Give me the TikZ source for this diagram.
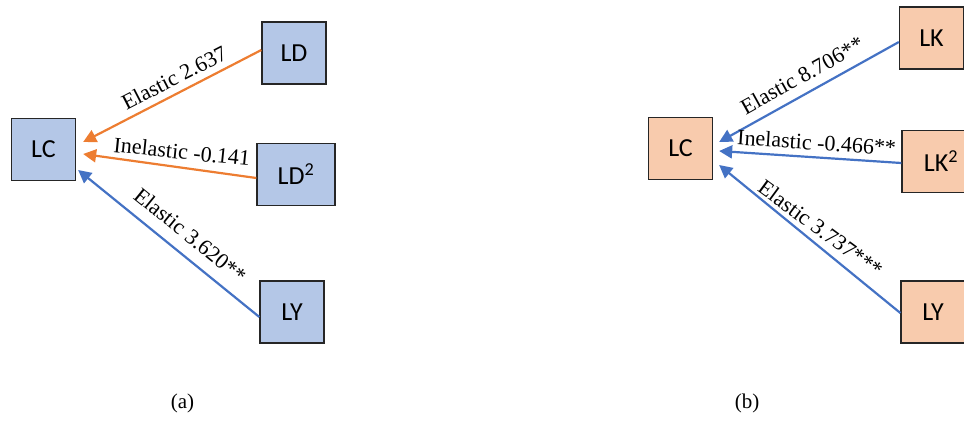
\documentclass[tikz,border=0pt]{standalone}
\usepackage{fontspec}
\setmainfont{Liberation Serif}
\newfontfamily\boxfont{Carlito}
\usetikzlibrary{arrows.meta}

\definecolor{boxblue}{HTML}{B4C7E7}
\definecolor{boxorange}{HTML}{F8CBAD}
\definecolor{arrblue}{HTML}{4472C4}
\definecolor{arrorange}{HTML}{ED7D31}

\begin{document}
\begin{tikzpicture}[x=1pt,y=-1pt]
  \tikzset{var/.style = {shape=rectangle,draw=black!85,line width=1.3pt,minimum width=64pt,minimum height=62pt,inner sep=0pt,font=\boxfont\fontsize{26}{30}\selectfont}}
  \tikzset{wide/.style = {minimum width=78pt}}
  \tikzset{arr/.style = {{Triangle[length=13pt,width=13pt]}-,line width=2.2pt}}
  \tikzset{lbl/.style = {sloped,above=#1,inner sep=0pt,text=black,font=\fontsize{22}{24}\selectfont}}

  \useasboundingbox (0,0) rectangle (964,421);
  \clip (0,0) rectangle (964,421);

  % (a)
	\node[var,fill=boxblue] (LCa) at (43.5,149.5) {LC};
	\node[var,fill=boxblue] (LD) at (294,53) {LD};
	\node[var,wide,fill=boxblue] (LDsq) at (296,174.5) {LD\textsuperscript{2}};
	\node[var,fill=boxblue] (LYa) at (292,312) {LY};

	\draw[arr,arrorange] ([shift={(7,-7.5)}]LCa.east) -- ([shift={(0,-3)}]LD.west) node[lbl=6.5pt,pos=0.55] {Elastic 2.637};
	\draw[arr,arrorange] ([shift={(7,4.5)}]LCa.east) -- ([shift={(0,3.5)}]LDsq.west) node[lbl=7pt,pos=0.56,rotate=2] {Inelastic -0.141};
	\draw[arr,arrblue] ([shift={(2,20.5)}]LCa.east) -- ([shift={(0,5)}]LYa.west) node[lbl=11pt,pos=0.55] {Elastic 3.620**};

  % (b)
	\node[var,fill=boxorange] (LCb) at (680.5,148.5) {LC};
	\node[var,fill=boxorange] (LK) at (931.5,38) {LK};
	\node[var,wide,fill=boxorange] (LKsq) at (941,161.5) {LK\textsuperscript{2}};
	\node[var,fill=boxorange] (LYb) at (933,312) {LY};

	\draw[arr,arrblue] ([shift={(6,-6.5)}]LCb.east) -- ([shift={(0,4)}]LK.west) node[lbl=9pt,pos=0.51] {Elastic 8.706**};
	\draw[arr,arrblue] ([shift={(6,2.5)}]LCb.east) -- ([shift={(0,1.5)}]LKsq.west) node[lbl=6pt,pos=0.53] {Inelastic -0.466**};
	\draw[arr,arrblue] ([shift={(6,16.5)}]LCb.east) -- ([shift={(0,1)}]LYb.west) node[lbl=6pt,pos=0.51,rotate=3] {Elastic 3.737***};

	\node[font=\fontsize{21}{24}\selectfont] (capa) at (182.5,403.5) {(a)};
	\node[font=\fontsize{21}{24}\selectfont] (capb) at (747,403.5) {(b)};

\end{tikzpicture}
\end{document}
